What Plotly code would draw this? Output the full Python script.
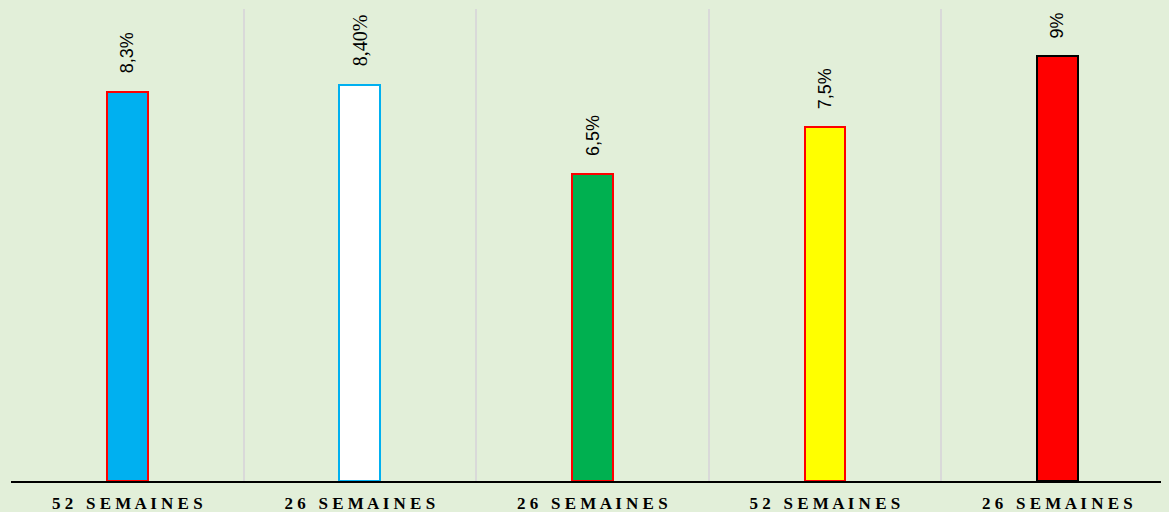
import plotly.graph_objects as go

categories = ["52 SEMAINES", "26 SEMAINES", "26 SEMAINES", "52 SEMAINES", "26 SEMAINES"]
values = [8.25, 8.4, 6.5, 7.5, 9.0]
value_labels = ["8,3%", "8,40%", "6,5%", "7,5%", "9%"]
fill_colors = ["#00B0F0", "#FFFFFF", "#00B050", "#FFFF00", "#FF0000"]
line_colors = ["#FF0000", "#00B0F0", "#FF0000", "#FF0000", "#000000"]
label_fonts = ["Liberation Sans", "Liberation Serif", "Liberation Sans", "Liberation Sans", "Liberation Sans"]
label_sizes = [18, 20, 18, 18, 18]

def spaced(s):
    words = s.split(" ")
    return "\u00a0\u00a0\u00a0".join(" ".join(list(w)) for w in words)

x = list(range(len(categories)))
ticktext = [spaced(c) for c in categories]

fig = go.Figure()
fig.add_trace(go.Bar(
    x=x, y=values, width=0.175,
    marker=dict(color=fill_colors, line=dict(color=line_colors, width=2)),
    hoverinfo="skip",
))

for xi, v, t, f, s in zip(x, values, value_labels, label_fonts, label_sizes):
    fig.add_annotation(x=xi, y=v, text=t, textangle=-90, showarrow=False,
                       xanchor="center", yanchor="bottom", yshift=16,
                       font=dict(family=f, size=s, color="#000000"))

fig.update_layout(
    width=1161, height=504,
    margin=dict(l=3, r=0, t=1, b=31),
    paper_bgcolor="#E2EFD9", plot_bgcolor="#E2EFD9",
    showlegend=False,
    bargap=0,
)
fig.update_xaxes(
    range=[-0.5, 4.48],
    tickmode="array", tickvals=x, ticktext=ticktext,
    showgrid=False, zeroline=False,
    showline=True, linecolor="#000000", linewidth=2,
    ticks="", ticklabelstandoff=6,
    tickfont=dict(family="Liberation Serif", size=17, color="#000000", weight="bold"),
    minor=dict(tick0=0.5, dtick=1, showgrid=True, gridcolor="#D9D9D9", gridwidth=2, ticks=""),
)
fig.update_yaxes(range=[0, 10], showgrid=False, zeroline=False, showticklabels=False, showline=False)

fig.write_html("out.html", post_script="document.body.style.background='#E2EFD9';")
